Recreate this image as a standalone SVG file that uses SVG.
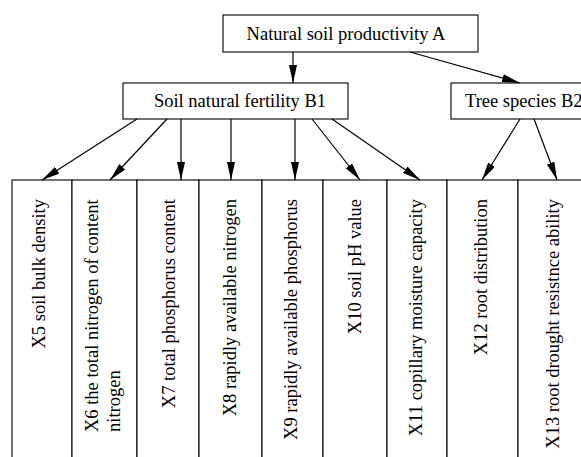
<svg xmlns="http://www.w3.org/2000/svg" width="581" height="457" viewBox="0 0 581 457">
<style>
  .box { fill: #fff; stroke: #000; stroke-width: 1.1; }
  .t { font-family: "Liberation Serif", "Times New Roman", serif; font-size: 18.5px; fill: #000; }
  .v { text-anchor: end; }
  .c { text-anchor: middle; }
  .edge { stroke: #000; stroke-width: 1.2; fill: none; marker-end: url(#ah); }
</style>
<defs>
  <marker id="ah" markerUnits="userSpaceOnUse" markerWidth="18" markerHeight="8" viewBox="0 0 18 8" refX="18" refY="4" orient="auto">
    <path d="M0,0 L18,4 L0,8 z" fill="#000"/>
  </marker>
</defs>
<rect width="581" height="457" fill="#fff"/>

<g id="A">
  <rect class="box" x="223" y="15" width="255" height="37"/>
  <text class="t c" x="346" y="40">Natural soil productivity A</text>
</g>
<g id="B1">
  <rect class="box" x="123" y="83" width="225" height="36"/>
  <text class="t c" x="240" y="107">Soil natural fertility B1</text>
</g>
<g id="B2">
  <rect class="box" x="451" y="83" width="145" height="36"/>
  <text class="t" x="465" y="107">Tree species B2</text>
</g>

<g id="X5">
  <rect class="box" x="12" y="180" width="60" height="290"/>
  <text class="t v" transform="translate(44.5,199) rotate(-90)">X5 soil bulk density</text>
</g>
<g id="X6">
  <rect class="box" x="72" y="180" width="65" height="290"/>
  <text class="t" transform="translate(98,432) rotate(-90)">X6 the total nitrogen of content</text>
  <text class="t" transform="translate(119.5,432) rotate(-90)">nitrogen</text>
</g>
<g id="X7">
  <rect class="box" x="137" y="180" width="62" height="290"/>
  <text class="t v" transform="translate(175,199) rotate(-90)">X7 total phosphorus content</text>
</g>
<g id="X8">
  <rect class="box" x="199" y="180" width="63" height="290"/>
  <text class="t v" transform="translate(236,199) rotate(-90)">X8 rapidly available nitrogen</text>
</g>
<g id="X9">
  <rect class="box" x="262" y="180" width="61" height="290"/>
  <text class="t v" transform="translate(297,199) rotate(-90)">X9 rapidly available phosphorus</text>
</g>
<g id="X10">
  <rect class="box" x="323" y="180" width="64" height="290"/>
  <text class="t v" transform="translate(361,199) rotate(-90)">X10 soil pH value</text>
</g>
<g id="X11">
  <rect class="box" x="387" y="180" width="60" height="290"/>
  <text class="t v" transform="translate(422,199) rotate(-90)">X11 copillary moisture capacity</text>
</g>
<g id="X12">
  <rect class="box" x="447" y="180" width="71" height="290"/>
  <text class="t v" transform="translate(487,199) rotate(-90)">X12 root distribution</text>
</g>
<g id="X13">
  <rect class="box" x="518" y="180" width="75" height="290"/>
  <text class="t v" transform="translate(559,199) rotate(-90)">X13 root drought resistnce ability</text>
</g>

<g id="connectors">
  <line class="edge" x1="293" y1="52" x2="293" y2="83"/>
  <line class="edge" x1="410" y1="52" x2="520" y2="83"/>
  <line class="edge" x1="137" y1="119" x2="42" y2="180"/>
  <line class="edge" x1="167" y1="119" x2="110" y2="180"/>
  <line class="edge" x1="181" y1="119" x2="181" y2="180"/>
  <line class="edge" x1="231" y1="119" x2="231" y2="180"/>
  <line class="edge" x1="295" y1="119" x2="295" y2="180"/>
  <line class="edge" x1="312" y1="119" x2="360" y2="180"/>
  <line class="edge" x1="332" y1="119" x2="420" y2="180"/>
  <line class="edge" x1="520" y1="119" x2="482" y2="180"/>
  <line class="edge" x1="534" y1="119" x2="557" y2="180"/>
</g>
</svg>
